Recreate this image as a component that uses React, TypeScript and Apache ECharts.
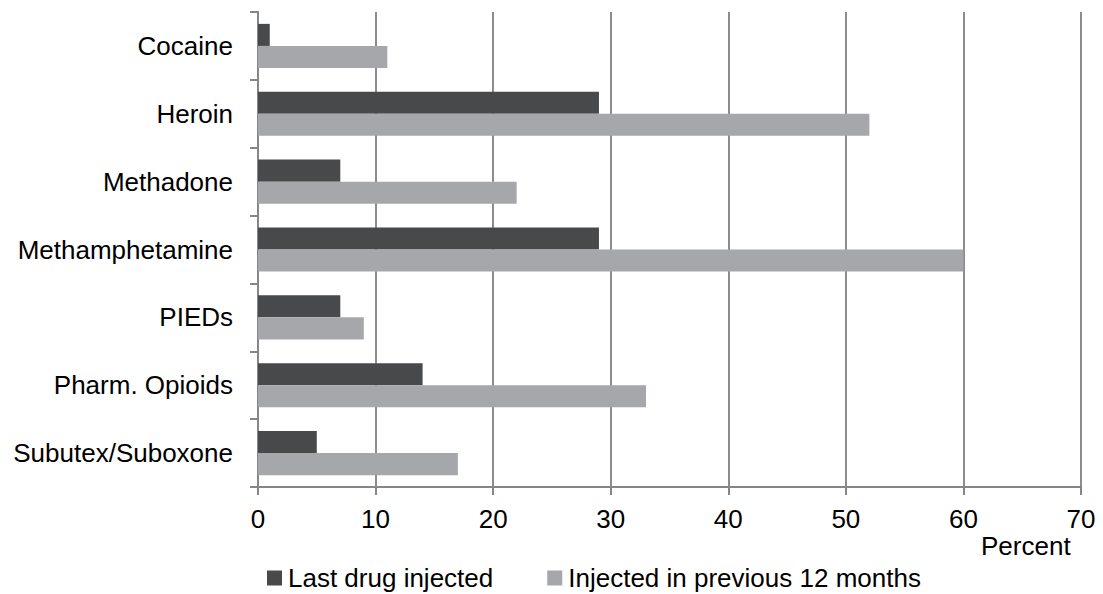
import React, { useEffect, useRef } from "react";
import * as echarts from "echarts";

const categories = [
  "Cocaine",
  "Heroin",
  "Methadone",
  "Methamphetamine",
  "PIEDs",
  "Pharm. Opioids",
  "Subutex/Suboxone",
];
const lastDrugInjected = [1, 29, 7, 29, 7, 14, 5];
const injectedPrev12 = [11, 52, 22, 60, 9, 33, 17];
const seriesNames = ["Last drug injected", "Injected in previous 12 months"];
const axisName = "Percent";

export default function App() {
  const ref = useRef<HTMLDivElement>(null);
  useEffect(() => {
    if (!ref.current) return;
    const chart = echarts.init(ref.current, undefined, { renderer: "svg" });
    const font = "'Liberation Sans', Arial, sans-serif";
    chart.setOption({
      animation: false,
      backgroundColor: "#ffffff",
      textStyle: { fontFamily: font },
      grid: { left: 258, right: 22, top: 12, bottom: 107, containLabel: false },
      legend: {
        left: 267,
        top: 565,
        padding: 0,
        itemWidth: 15,
        itemHeight: 15,
        itemGap: 54,
        icon: "rect",
        textStyle: { fontSize: 26, color: "#000", fontFamily: font, padding: [0, 0, 0, 1] },
        data: seriesNames,
      },
      xAxis: {
        type: "value",
        min: 0,
        max: 70,
        interval: 10,
        axisLine: { show: true, lineStyle: { color: "#868686", width: 2 } },
        axisTick: { show: true, length: 8, lineStyle: { color: "#868686", width: 2 } },
        axisLabel: { fontSize: 26, color: "#000", margin: 19, fontFamily: font },
        splitLine: { show: true, lineStyle: { color: "#8c8c8c", width: 2 } },
      },
      yAxis: {
        type: "category",
        inverse: true,
        data: categories,
        axisLine: { show: true, lineStyle: { color: "#868686", width: 2 } },
        axisTick: { show: true, length: 8, lineStyle: { color: "#868686", width: 2 } },
        axisLabel: { fontSize: 26, color: "#000", margin: 25, fontFamily: font },
        splitLine: { show: false },
      },
      graphic: [
        {
          type: "text",
          left: 981,
          top: 533,
          style: { text: axisName, fontSize: 26, fill: "#000", fontFamily: font },
        },
      ],
      series: [
        {
          name: seriesNames[0],
          type: "bar",
          data: lastDrugInjected,
          barGap: "0%",
          barCategoryGap: "35%",
          itemStyle: { color: "#48494b" },
        },
        {
          name: seriesNames[1],
          type: "bar",
          data: injectedPrev12,
          barGap: "0%",
          barCategoryGap: "35%",
          itemStyle: { color: "#a6a7aa" },
        },
      ],
    });
    return () => chart.dispose();
  }, []);
  return (
    <div
      ref={ref}
      style={{ position: "fixed", left: 0, top: 0, width: 1103, height: 594 }}
    />
  );
}
